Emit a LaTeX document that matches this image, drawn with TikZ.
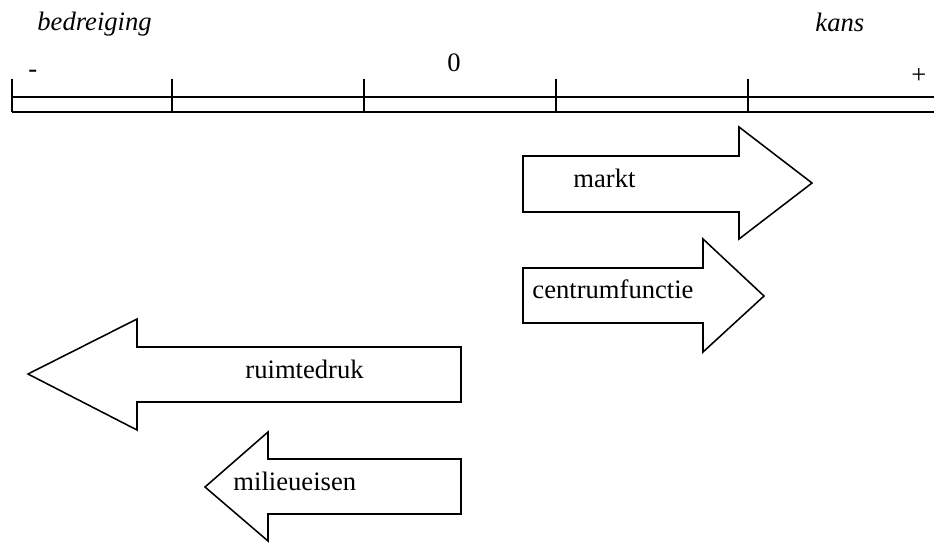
\documentclass[tikz,border=0pt]{standalone}
\usepackage{fontspec}
\setmainfont{Liberation Serif}
\usepackage{tikz}
\usetikzlibrary{positioning}

\begin{document}
\begin{tikzpicture}[
    x=0.451pt, y=-0.451pt,
    scaleline/.style={line width=0.7pt},
    bigarrow/.style={draw, line width=0.7pt, line join=miter},
    lbl/.style={anchor=base west, inner sep=0pt, font=\fontsize{12}{14}\selectfont},
    endlbl/.style={lbl, font=\fontsize{12}{14}\selectfont\itshape}
]
\useasboundingbox (0,0) rectangle (934,542);

% Scale
\node[endlbl] (threat) at (37,31) {bedreiging};
\node[endlbl] (chance) at (815,32) {kans};
\node[lbl] (minus) at (28,78) {-};
\node[lbl] (zero) at (447,72) {0};
\node[lbl] (plus) at (911,84) {+};

\draw[scaleline] (12,97) -- (934,97);
\draw[scaleline] (12,112) -- (934,112);
\foreach \x in {12,172,364,556,748}
    \draw[scaleline] (\x,79) -- (\x,112);

% Arrows to the right
\draw[bigarrow] (523,156) -- (739,156) -- (739,127) -- (812,183)
    -- (739,239) -- (739,212) -- (523,212) -- cycle;
\node[lbl] (market) at (573,187) {markt};

\draw[bigarrow] (523,268) -- (703,268) -- (703,239) -- (764,296)
    -- (703,352) -- (703,323) -- (523,323) -- cycle;
\node[lbl] (centre) at (532,298) {centrumfunctie};

% Arrows to the left
\draw[bigarrow] (461,347) -- (137,347) -- (137,319) -- (28,374)
    -- (137,430) -- (137,402) -- (461,402) -- cycle;
\node[lbl] (space) at (245,378) {ruimtedruk};

\draw[bigarrow] (461,459) -- (268,459) -- (268,432) -- (205,487)
    -- (268,541) -- (268,514) -- (461,514) -- cycle;
\node[lbl] (environ) at (233,490) {milieueisen};

\end{tikzpicture}
\end{document}
